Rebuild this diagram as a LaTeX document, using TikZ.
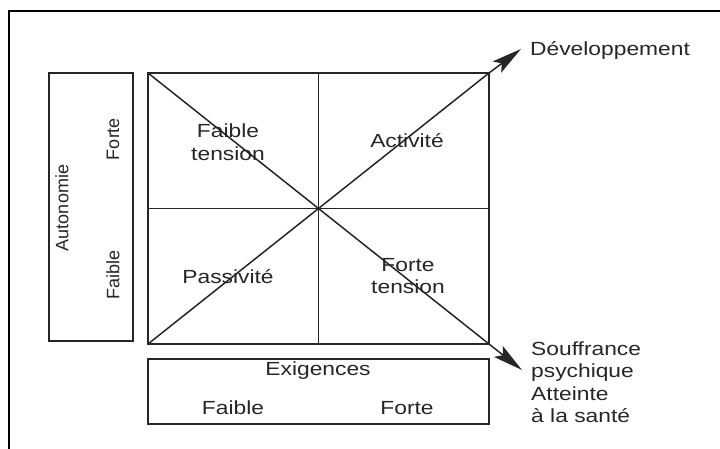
\documentclass[tikz,border=0pt]{standalone}
\usepackage{fontspec}
\usepackage{tikz}
\usetikzlibrary{arrows.meta,calc}
\newfontfamily\diagfont[FakeStretch=1.2]{Liberation Sans}
\newfontfamily\diagrotfont{Liberation Sans}

\tikzset{
  boxline/.style={line width=1.6pt, draw=black!85},
  lbl/.style={font={\diagfont\fontsize{19}{22.5}\selectfont}, text=black!85, inner sep=0pt, align=center},
  rotlbl/.style={font={\diagrotfont\fontsize{18}{21}\selectfont}, text=black!85, inner sep=0pt, rotate=90},
  fleche/.style={line width=1.5pt, draw=black!85, -{Stealth[length=30pt,width=14pt,inset=6pt]}}
}

\begin{document}
\begin{tikzpicture}[x=1pt,y=-1pt]
\useasboundingbox (0,0) rectangle (720,449);
\fill[white] (0,0) rectangle (720,449);
% cadre
\draw[line width=2.6pt] (9,449) -- (9,11) -- (720,11);
% carre principal
\coordinate (sw) at (148,344);
\coordinate (ne) at (489,73);
\coordinate (nw) at (148,73);
\coordinate (se) at (489,344);
\coordinate (centre) at ($(sw)!0.5!(ne)$);
\coordinate (devtip) at (521,49);
\coordinate (souftip) at (522,370);
\draw[boxline] (sw) rectangle (ne);
\draw[boxline] (centre |- nw) -- (centre |- sw);
\draw[boxline] (centre -| nw) -- (centre -| ne);
\draw[fleche] (sw) -- (centre) -- (ne) -- (devtip);
\draw[fleche] (nw) -- (centre) -- (se) -- (souftip);
% autonomie
\draw[boxline] (49,73) rectangle (133,341);
\node[rotlbl] (auto) at (62,208) {Autonomie};
\node[rotlbl] (autofort) at (113,139) {Forte};
\node[rotlbl] (autofaib) at (113,275) {Faible};
% exigences
\draw[boxline] (148,359) rectangle (489,424);
\node[lbl] (exig) at (318,371) {Exigences};
\node[lbl] (exigfaib) at (233,408) {Faible};
\node[lbl] (exigfort) at (407,408) {Forte};
% quadrants
\node[lbl] (faibtens) at (228,142) {Faible\\tension};
\node[lbl] (activ) at (407,141) {Activit\'e};
\node[lbl] (passiv) at (228,277) {Passivit\'e};
\node[lbl] (forttens) at (408,276) {Forte\\tension};
% issues
\node[lbl, anchor=west] (dev) at (530,50) {D\'eveloppement};
\node[lbl, anchor=west, align=left] (souf) at (531,382) {Souffrance\\psychique\\Atteinte\\\`a la sant\'e};
\end{tikzpicture}
\end{document}
